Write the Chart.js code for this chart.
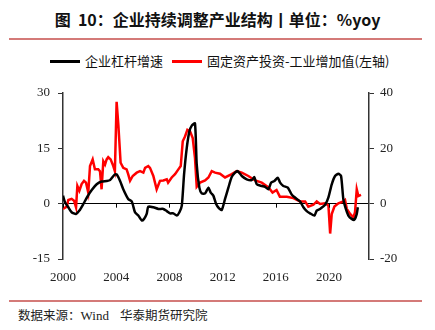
<!DOCTYPE html>
<html>
<head>
<meta charset="utf-8">
<script src="https://cdn.jsdelivr.net/npm/chart.js@4.4.1/dist/chart.umd.min.js"></script>
<style>
  html, body { margin: 0; padding: 0; background: #fff; }
  body { width: 435px; height: 330px; position: relative; overflow: hidden; font-family: "Noto Sans CJK SC", sans-serif; }
  #chart { position: absolute; left: 0; top: 0; }
  .title { position: absolute; left: 0; width: 435px; top: 8px; text-align: center; font-size: 16px; font-weight: bold; color: #111; line-height: 22px; white-space: nowrap; }
  .rule { position: absolute; left: 9px; width: 413px; height: 2px; background: #d47a78; }
  .legend { position: absolute; top: 52px; left: 50px; height: 18px; font-size: 13px; line-height: 18px; color: #111; white-space: nowrap; }
  .legend span.item { display: inline-block; margin-right: 9px; }
  .legend i { display: inline-block; width: 30px; height: 3px; vertical-align: middle; margin-right: 5px; position: relative; top: -1px; }
  .source { position: absolute; left: 18px; top: 306px; font-size: 12.5px; line-height: 18px; color: #222; white-space: nowrap; }
  .source .en { font-family: "Liberation Serif", serif; font-size: 13px; }
</style>
</head>
<body>
<div class="title">图&nbsp;&nbsp;10：企业持续调整产业结构丨单位：%yoy</div>
<div class="rule" style="top:38px"></div>
<div class="legend" id="legend"></div>
<div class="rule" style="top:300px"></div>
<div class="source">数据来源：<span class="en">Wind</span>&nbsp;&nbsp;&nbsp;&nbsp;华泰期货研究院</div>
<canvas id="chart" width="435" height="330"></canvas>
<script>
// series names and colours
const seriesNames = ["企业杠杆增速", "固定资产投资-工业增加值(左轴)"];
const seriesColors = ["#000000", "#ff0000"];

// x axis tick labels
const xTicks = [2000, 2004, 2008, 2012, 2016, 2020];
const leftTicks = [-15, 0, 15, 30];
const rightTicks = [-20, 0, 20, 40];

// 企业杠杆增速 (right axis)
const leverageYears = [
  2000.0, 2000.15, 2000.4, 2000.65, 2000.98, 2001.23, 2001.53, 2001.83, 2002.16, 2002.53,
  2002.9, 2003.28, 2003.53, 2003.9, 2004.03, 2004.29, 2004.53, 2004.9, 2005.17, 2005.41,
  2005.66, 2005.92, 2006.09, 2006.29, 2006.41, 2006.79, 2007.17, 2007.54, 2007.8, 2008.05,
  2008.3, 2008.55, 2008.75, 2008.93, 2009.1, 2009.3, 2009.5, 2009.68, 2009.92, 2010.05,
  2010.25, 2010.43, 2010.68, 2010.93, 2011.1, 2011.3, 2011.5, 2011.7, 2011.93, 2012.18,
  2012.43, 2012.68, 2012.93, 2013.13, 2013.44, 2013.81, 2014.19, 2014.38, 2014.56, 2014.94,
  2015.19, 2015.44, 2015.64, 2015.89, 2016.14, 2016.32, 2016.56, 2016.9, 2017.2, 2017.57,
  2017.82, 2018.07, 2018.32, 2018.57, 2018.9, 2019.07, 2019.32, 2019.7, 2019.95, 2020.2,
  2020.45, 2020.7, 2020.9, 2021.07, 2021.26, 2021.45, 2021.7, 2021.9, 2022.08, 2022.16
];
const leverageValues = [
  2.9, 0.5, -1.3, -3.1, -3.7, -2.5, -0.1, 2.5, 4.9, 7.0,
  8.0, 8.2, 8.5, 10.6, 10.6, 8.2, 5.2, 1.7, 0.8, -3.1,
  -4.3, -6.1, -5.5, -3.7, -1.1, -1.3, -1.9, -1.9, -2.7, -3.5,
  -3.5, -4.3, -3.1, -0.7, 10.6, 20.1, 26.1, 28.2, 29.0, 14.2,
  5.8, 3.7, 3.7, 5.8, 4.0, 2.9, 0.0, -1.5, -2.3, 1.7,
  5.8, 9.6, 11.2, 11.8, 10.0, 8.8, 8.5, 9.6, 7.0, 6.4,
  6.1, 5.2, 7.6, 8.2, 9.4, 7.6, 6.4, 5.8, 3.2, 1.7,
  0.8, -1.3, -2.7, -3.5, -4.3, -2.5, -1.9, -0.4, 2.3, 7.0,
  10.0, 10.8, 10.0, 1.7, -1.9, -4.3, -5.5, -5.8, -3.7, -1.3
];

// 固定资产投资-工业增加值 (left axis)
const investYears = [
  2000.0, 2000.28, 2000.4, 2000.65, 2000.83, 2000.98, 2001.08, 2001.23, 2001.4, 2001.58,
  2001.73, 2001.9, 2002.03, 2002.23, 2002.4, 2002.65, 2002.78, 2002.9, 2003.03, 2003.16,
  2003.28, 2003.4, 2003.58, 2003.78, 2003.9, 2004.03, 2004.16, 2004.33, 2004.53, 2004.78,
  2004.9, 2005.04, 2005.24, 2005.54, 2005.79, 2006.04, 2006.17, 2006.41, 2006.54, 2006.79,
  2007.04, 2007.29, 2007.54, 2007.8, 2007.9, 2008.17, 2008.42, 2008.67, 2008.85, 2009.0,
  2009.17, 2009.35, 2009.55, 2009.75, 2009.92, 2010.05, 2010.3, 2010.68, 2010.93, 2011.18,
  2011.43, 2011.8, 2012.18, 2012.68, 2013.06, 2013.44, 2013.93, 2014.44, 2014.94, 2015.45,
  2015.75, 2016.05, 2016.3, 2016.82, 2017.32, 2017.82, 2018.2, 2018.44, 2018.82, 2019.07,
  2019.32, 2019.7, 2019.95, 2020.08, 2020.2, 2020.4, 2020.7, 2021.07, 2021.2, 2021.33,
  2021.58, 2021.83, 2021.95, 2022.08, 2022.2, 2022.4
];
const investValues = [
  -1.4, -0.8, 1.0, 1.3, 0.8, -1.0, 4.8, 3.5, 5.3, 6.2,
  5.7, 3.0, 10.2, 12.0, 9.3, 9.3, 8.8, 3.9, 11.5, 10.6,
  12.0, 12.6, 12.0, 10.2, 8.8, 27.6, 21.4, 11.1, 9.7, 9.3,
  8.0, 6.2, 7.5, 8.4, 8.8, 8.4, 9.7, 10.2, 9.7, 7.5,
  3.9, 6.2, 6.3, 6.6, 5.7, 7.1, 8.0, 9.3, 10.2, 16.9,
  18.2, 20.0, 19.6, 17.8, 12.4, 4.6, 5.7, 6.3, 7.1, 8.8,
  8.4, 8.1, 7.1, 8.0, 8.8, 8.4, 7.5, 6.3, 5.7, 4.4,
  3.0, 3.7, 1.9, 1.9, 1.5, 0.6, 0.6, -0.8, -0.3, 0.6,
  -0.1, 0.1, -0.5, -8.1, -2.8, -0.8, 0.1, 0.6, 1.0, -1.4,
  -2.8, -3.7, -2.3, 3.9, 2.1, 2.4
];

const toPoints = (xs, ys) => xs.map((x, i) => ({ x: x, y: ys[i] }));

// legend in html, from the series arrays
document.getElementById("legend").innerHTML = seriesNames
  .map((name, i) => `<span class="item"><i style="background:${seriesColors[i]}"></i>${name}</span>`)
  .join("");

// small down ticks on the zero line for the x axis
const zeroTicks = {
  id: "zeroTicks",
  afterDatasetsDraw(chart) {
    const { ctx } = chart;
    const x = chart.scales.x;
    const y0 = chart.scales.yL.getPixelForValue(0);
    ctx.save();
    ctx.strokeStyle = "#000";
    ctx.lineWidth = 1;
    xTicks.forEach((v) => {
      const px = Math.round(x.getPixelForValue(v)) + 0.5;
      ctx.beginPath();
      ctx.moveTo(px, y0);
      ctx.lineTo(px, y0 + 4);
      ctx.stroke();
    });
    ctx.restore();
  },
};

const tickFont = { family: "Liberation Serif", size: 13 };

new Chart(document.getElementById("chart"), {
  type: "line",
  data: {
    datasets: [
      {
        label: seriesNames[0],
        data: toPoints(leverageYears, leverageValues),
        borderColor: seriesColors[0],
        backgroundColor: seriesColors[0],
        borderWidth: 2.5,
        pointRadius: 0,
        tension: 0.2,
        yAxisID: "yR",
      },
      {
        label: seriesNames[1],
        data: toPoints(investYears, investValues),
        borderColor: seriesColors[1],
        backgroundColor: seriesColors[1],
        borderWidth: 2.5,
        pointRadius: 0,
        tension: 0,
        yAxisID: "yL",
      },
    ],
  },
  options: {
    responsive: false,
    animation: false,
    layout: { padding: { top: 93, bottom: 41, left: 0, right: 0 } },
    plugins: { legend: { display: false }, tooltip: { enabled: false } },
    scales: {
      x: {
        type: "linear",
        min: 2000,
        max: 2023,
        afterBuildTicks: (scale) => {
          scale.ticks = xTicks.map((v) => ({ value: v }));
        },
        afterFit: (scale) => {
          scale.height = 30;
        },
        grid: { display: false },
        border: { display: false },
        ticks: { font: tickFont, color: "#222", padding: 3, maxRotation: 0, callback: (v) => String(v) },
      },
      yL: {
        position: "left",
        min: -15,
        max: 30,
        afterBuildTicks: (scale) => {
          scale.ticks = leftTicks.map((v) => ({ value: v }));
        },
        afterFit: (scale) => {
          scale.width = 63;
        },
        grid: {
          drawOnChartArea: true,
          color: (c) => (c.tick && c.tick.value === 0 ? "#000" : "rgba(0,0,0,0)"),
          tickColor: "#333",
          tickLength: 5,
          lineWidth: 1,
        },
        border: { display: true, color: "#333", width: 1.5 },
        ticks: { font: tickFont, color: "#222", padding: 8 },
      },
      yR: {
        position: "right",
        min: -20,
        max: 40,
        afterBuildTicks: (scale) => {
          scale.ticks = rightTicks.map((v) => ({ value: v }));
        },
        afterFit: (scale) => {
          scale.width = 66;
        },
        grid: { drawOnChartArea: false, tickColor: "#333", tickLength: 5 },
        border: { display: true, color: "#333", width: 1.5 },
        ticks: { font: tickFont, color: "#222", padding: 6 },
      },
    },
  },
  plugins: [zeroTicks],
});
</script>
</body>
</html>
